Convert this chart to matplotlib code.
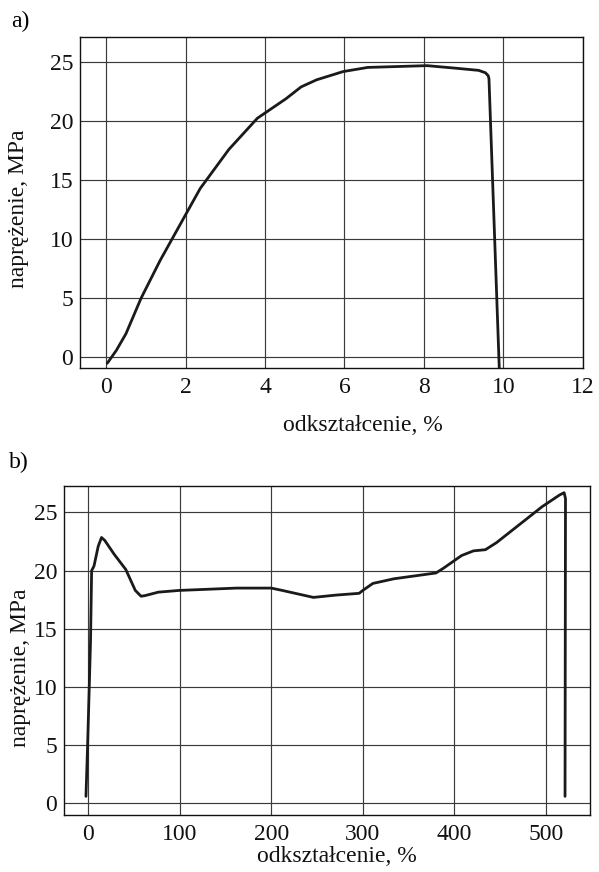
import matplotlib.pyplot as plt
import numpy as np

plt.rcParams['font.family'] = ['Liberation Serif', 'DejaVu Serif']

# a) tensile curve, strain in %, stress in MPa
strain_a = [0.03, 0.26, 0.5, 0.88, 1.36, 1.84, 2.37, 3.09, 3.81, 4.53, 4.91,
            5.3, 5.97, 6.59, 8.08, 8.75, 9.38, 9.55, 9.62, 9.64, 9.9]
stress_a = [-0.5, 0.6, 2.0, 5.0, 8.2, 11.1, 14.3, 17.6, 20.25, 21.9, 22.9,
            23.5, 24.2, 24.55, 24.7, 24.5, 24.3, 24.1, 23.85, 23.6, -1.0]

# b) tensile curve with large elongation
strain_b = [-2.5, -0.7, 1.1, 2.5, 3.7, 6.3, 10.9, 14.5, 18.0, 28.4, 41.0, 51.4,
            57.7, 61.9, 76.5, 99.5, 162, 200, 212, 246, 271, 296, 300, 311,
            334, 380, 388, 408, 421, 434, 446, 467, 496, 515, 520, 521.5, 521]
stress_b = [0.6, 5.0, 10.0, 14.0, 20.0, 20.4, 22.1, 22.85, 22.6, 21.4, 20.1, 18.3,
            17.8, 17.85, 18.15, 18.3, 18.5, 18.5, 18.3, 17.7, 17.9, 18.05, 18.3, 18.9,
            19.3, 19.8, 20.2, 21.3, 21.7, 21.8, 22.4, 23.7, 25.5, 26.5, 26.7, 26.2, 0.6]

xticks_a = [0, 2, 4, 6, 8, 10, 12]
xticks_b = [0, 100, 200, 300, 400, 500]
yticks = [0, 5, 10, 15, 20, 25]

fig = plt.figure(figsize=(5.99, 8.72), dpi=100)
ax1 = fig.add_axes([0.134, 0.5776, 0.8388, 0.3803])
ax2 = fig.add_axes([0.1073, 0.065, 0.8777, 0.378])


def style(ax, xticks, xlim, ylim):
    ax.set_xlim(*xlim)
    ax.set_ylim(*ylim)
    ax.set_xticks(xticks)
    ax.set_yticks(yticks)
    ax.grid(True, color='#3a3a3a', linewidth=0.85)
    ax.set_axisbelow(True)
    ax.tick_params(length=0, labelsize=17, colors='#111111')
    ax.tick_params(axis='x', pad=6)
    ax.tick_params(axis='y', pad=5)
    for s in ax.spines.values():
        s.set_linewidth(1.0)
        s.set_color('#111111')


style(ax1, xticks_a, (-0.65, 12), (-0.93, 27.15))
ax1.plot(strain_a, stress_a, color='#1a1a1a', linewidth=2.0,
         solid_joinstyle='round', solid_capstyle='round')

style(ax2, xticks_b, (-26.2, 548.3), (-1.03, 27.3))
ax2.plot(strain_b, stress_b, color='#1a1a1a', linewidth=2.0,
         solid_joinstyle='round', solid_capstyle='round')

for ax, lx, ly, yx, yy in [(ax1, 0.563, -0.171, -0.123, 0.48),
                           (ax2, 0.519, -0.126, -0.084, 0.447)]:
    ax.set_xlabel('odkształcenie, %', fontsize=17, color='#111111')
    ax.set_ylabel('naprężenie, MPa', fontsize=17, color='#111111')
    ax.xaxis.set_label_coords(lx, ly)
    ax.yaxis.set_label_coords(yx, yy)
    ax.xaxis.label.set_va('center')
    ax.yaxis.label.set_va('center')

fig.text(20 / 599, 1 - 21.7 / 872, 'a)', fontsize=17, ha='center', va='center')
fig.text(19 / 599, 1 - 462 / 872, 'b)', fontsize=17, ha='center', va='center')

fig.savefig('out.png', dpi=100)
